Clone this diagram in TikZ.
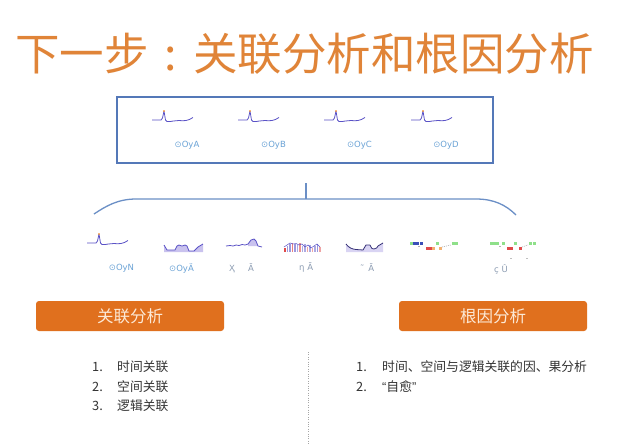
\documentclass[tikz,border=0pt]{standalone}
\usepackage{fontspec}
\setmainfont{DejaVu Sans}
\newfontfamily\cjk{Noto Sans CJK SC}
\newfontfamily\lat{Liberation Sans}
\definecolor{titleor}{HTML}{E08438}
\definecolor{boxor}{HTML}{E0701E}
\definecolor{boxtxt}{HTML}{FCE9D6}
\definecolor{boxblue}{HTML}{5478B8}
\definecolor{brblue}{HTML}{6B8FC6}
\definecolor{wavec}{HTML}{5A52C6}
\definecolor{lav}{HTML}{C9C2EE}
\definecolor{labblue}{HTML}{6BA3D6}
\definecolor{labgrey}{HTML}{8C9CB2}
\definecolor{txtgrey}{HTML}{333333}
\definecolor{sqgreen}{HTML}{8FE08A}
\definecolor{sqblue}{HTML}{3A4FB8}
\definecolor{sqred}{HTML}{E04A4A}
\definecolor{sqor}{HTML}{F2B070}
\begin{document}
\begin{tikzpicture}[x=1pt,y=-1pt,
  titletext/.style={inner sep=0pt,text=titleor,font=\cjk\fontsize{44.5}{44.5}\selectfont},
  topbox/.style={draw=boxblue,line width=1.8pt,minimum width=376pt,minimum height=66pt,inner sep=0pt},
  orbox/.style={fill=boxor,rounded corners=3pt,minimum width=188pt,minimum height=30pt,inner sep=0pt,
     text=boxtxt,font=\cjk\fontsize{16.5}{16.5}\selectfont},
  lab/.style={inner sep=0pt,text=labblue,font=\fontsize{8.5}{8.5}\selectfont},
  labg/.style={inner sep=0pt,text=labgrey,font=\fontsize{8.5}{8.5}\selectfont},
  listtxt/.style={inner sep=0pt,anchor=west,text=txtgrey,font=\cjk\fontsize{12.8}{12.8}\selectfont},
  wave/.style={draw=wavec,line width=0.8pt,line join=round},
  bracket/.style={draw=brblue,line width=1.3pt},
  sq/.style={minimum size=3pt,inner sep=0pt},
  ecg/.pic={
    \draw[wave] (0,0) -- (9,0) -- (10.5,-2) -- (12,-9) -- (13.5,0) -- (15,1.5)
       .. controls (20,2) and (23,0) .. (27,0.5) .. controls (32,1) and (36,1) .. (41,-2.5);
    \fill[orange] (12,-9) circle (0.8);
  }]
\useasboundingbox (0,0) rectangle (640,445);
\fill[white] (0,0) rectangle (640,445);

% title
\node[titletext,anchor=west] (title) at (15,54) {下一步\makebox[1em][c]{:}关联分析和根因分析};

% top box
\node[topbox] (tb) at (305,130) {};
\pic at (152,120) {ecg};
\pic at (238,120) {ecg};
\pic at (324,120) {ecg};
\pic at (411,120) {ecg};
\node[lab] (la) at (187,145) {⊙OyA};
\node[lab] (lb) at (273.5,145) {⊙OyB};
\node[lab] (lc) at (359.5,145) {⊙OyC};
\node[lab] (ld) at (446,145) {⊙OyD};

% bracket
\coordinate (stemtop) at (306,183);
\coordinate (stembot) at (306,199);
\coordinate (brl) at (94,214);
\coordinate (brr) at (516,215);
\draw[bracket] (stemtop) -- (stembot);
\draw[bracket] (brl) .. controls (106,206) and (118,199) .. (136,199) -- (476,199)
   .. controls (494,199) and (506,205) .. (brr);

% bottom charts
\pic at (87,243) {ecg};
% chart 2
\fill[lav] (164,245) -- (167,250) -- (175,250) -- (177,246) -- (179,245) -- (182,246) -- (185,245) -- (187,246)
   -- (189,251) -- (194,251) -- (198,247) -- (203,244) -- (203,252) -- (164,252) -- cycle;
\draw[wave] (164,245) -- (167,250) -- (175,250) -- (177,246) -- (179,245) -- (182,246) -- (185,245) -- (187,246)
   -- (189,251) -- (194,251) -- (198,247) -- (203,244);
% chart 3
\fill[lav] (248,244) -- (251,240) -- (254,239) -- (256,241) -- (258,246) -- (248,246) -- cycle;
\draw[wave] (226,246) -- (230,245.5) -- (233,246) -- (236,245) -- (239,245.5) -- (242,244.5) -- (245,245) -- (248,244)
   -- (251,240) -- (254,239) -- (256,241) -- (258,246) -- (262,247);
% chart 4
\foreach \x/\h/\c in {284/4/sqred,286.5/6/wavec!60,289/8/wavec!60,291.5/9/sqred!70,294/8/wavec!60,296.5/7/wavec!50,
   299/9/sqred!60,301.5/6/wavec!50,304/8/wavec!50,306.5/5/sqred!50,309/7/wavec!50,311.5/4/sqred!50,314/6/wavec!50,316.5/8/wavec!60,319/5/sqred!50}
   \fill[\c] (\x,252) rectangle (\x+1.8,252-\h);
\draw[wavec,line width=0.5pt] (284,247) -- (287,245) -- (290,243) -- (293,244) -- (296,243.5) -- (299,245) -- (302,244)
   -- (305,247) -- (308,245) -- (311,248) -- (314,246) -- (317,244) -- (320,247);
% chart 5
\fill[lav!70] (346,244) .. controls (349,248) and (352,249) .. (356,249.5) -- (363,250) .. controls (365,248) .. (366,245)
   -- (370,245) .. controls (372,249) .. (374,249) .. controls (377,248) .. (378,246) -- (383,243) -- (383,252) -- (346,252) -- cycle;
\draw[wave,draw=wavec!60!black] (346,244) .. controls (349,248) and (352,249) .. (356,249.5) -- (363,250) .. controls (365,248) .. (366,245)
   -- (370,245) .. controls (372,249) .. (374,249) .. controls (377,248) .. (378,246) -- (383,243);
% chart 6
\foreach \x/\y/\c in {411/243/sqgreen,414/243/sqblue,417/243/sqblue,421/243/sqblue,427/248/sqred,430/248/sqred,
   433/248/sqor,437/243/sqgreen,440/248/sqor,453/243/sqgreen,456.5/243/sqgreen}
   \node[sq,fill=\c] at (\x,\y) {};
\draw[gray!60,line width=0.5pt] (418,246) -- (420,246);
\draw[gray!60,line width=0.6pt,dash pattern=on 1pt off 1pt] (442,247) -- (451,245);
% chart 7
\foreach \x/\y/\c in {491/243/sqgreen,494/243/sqgreen,497.5/243/sqgreen,503/243/sqgreen,508/248/sqred,511/248/sqred,
   515/243/sqgreen,520/248/sqred,530/243/sqgreen,534/243/sqgreen}
   \node[sq,fill=\c] at (\x,\y) {};
\draw[gray!60,line width=0.5pt] (499,246) -- (501,246);
\draw[gray!60,line width=0.6pt,dash pattern=on 1pt off 1pt] (522,247) -- (528,245);
\draw[gray!50,line width=0.5pt] (510,258) -- (512,258) (526,258) -- (528,258);

% bottom labels
\node[lab] (ln) at (121.5,268) {⊙OyN};
\node[lab] (lo) at (181.5,268) {⊙OyÄ};
\node[labg,anchor=west] (lp) at (229,268) {Ҳ\hspace{13pt}Ā};
\node[labg,anchor=west] (lq) at (299,268) {η Ā};
\node[labg,anchor=west] (lr) at (360,268) {˜\hspace{4pt}Ā};
\node[labg,anchor=west] (ls) at (494,269) {ç Û};

% orange boxes
\node[orbox] (corr) at (130,316) {关联分析};
\node[orbox] (root) at (493,316) {根因分析};

% divider
\coordinate (dtop) at (308,352);
\coordinate (dbot) at (308,445);
\draw[gray!70,line width=0.6pt,dash pattern=on 0.8pt off 1.6pt] (dtop) -- (dbot);

% left list
\node[listtxt] (n1) at (92,367) {1.};
\node[listtxt] (t1) at (117,367) {时间关联};
\node[listtxt] (n2) at (92,387) {2.};
\node[listtxt] (t2) at (117,387) {空间关联};
\node[listtxt] (n3) at (92,406) {3.};
\node[listtxt] (t3) at (117,406) {逻辑关联};

% right list
\node[listtxt] (m1) at (356,367) {1.};
\node[listtxt] (r1) at (382,367) {时间、空间与逻辑关联的因、果分析};
\node[listtxt] (m2) at (356,387) {2.};
\node[listtxt] (r2) at (382,387) {{\lat “}自愈{\lat ”}};
\end{tikzpicture}
\end{document}
